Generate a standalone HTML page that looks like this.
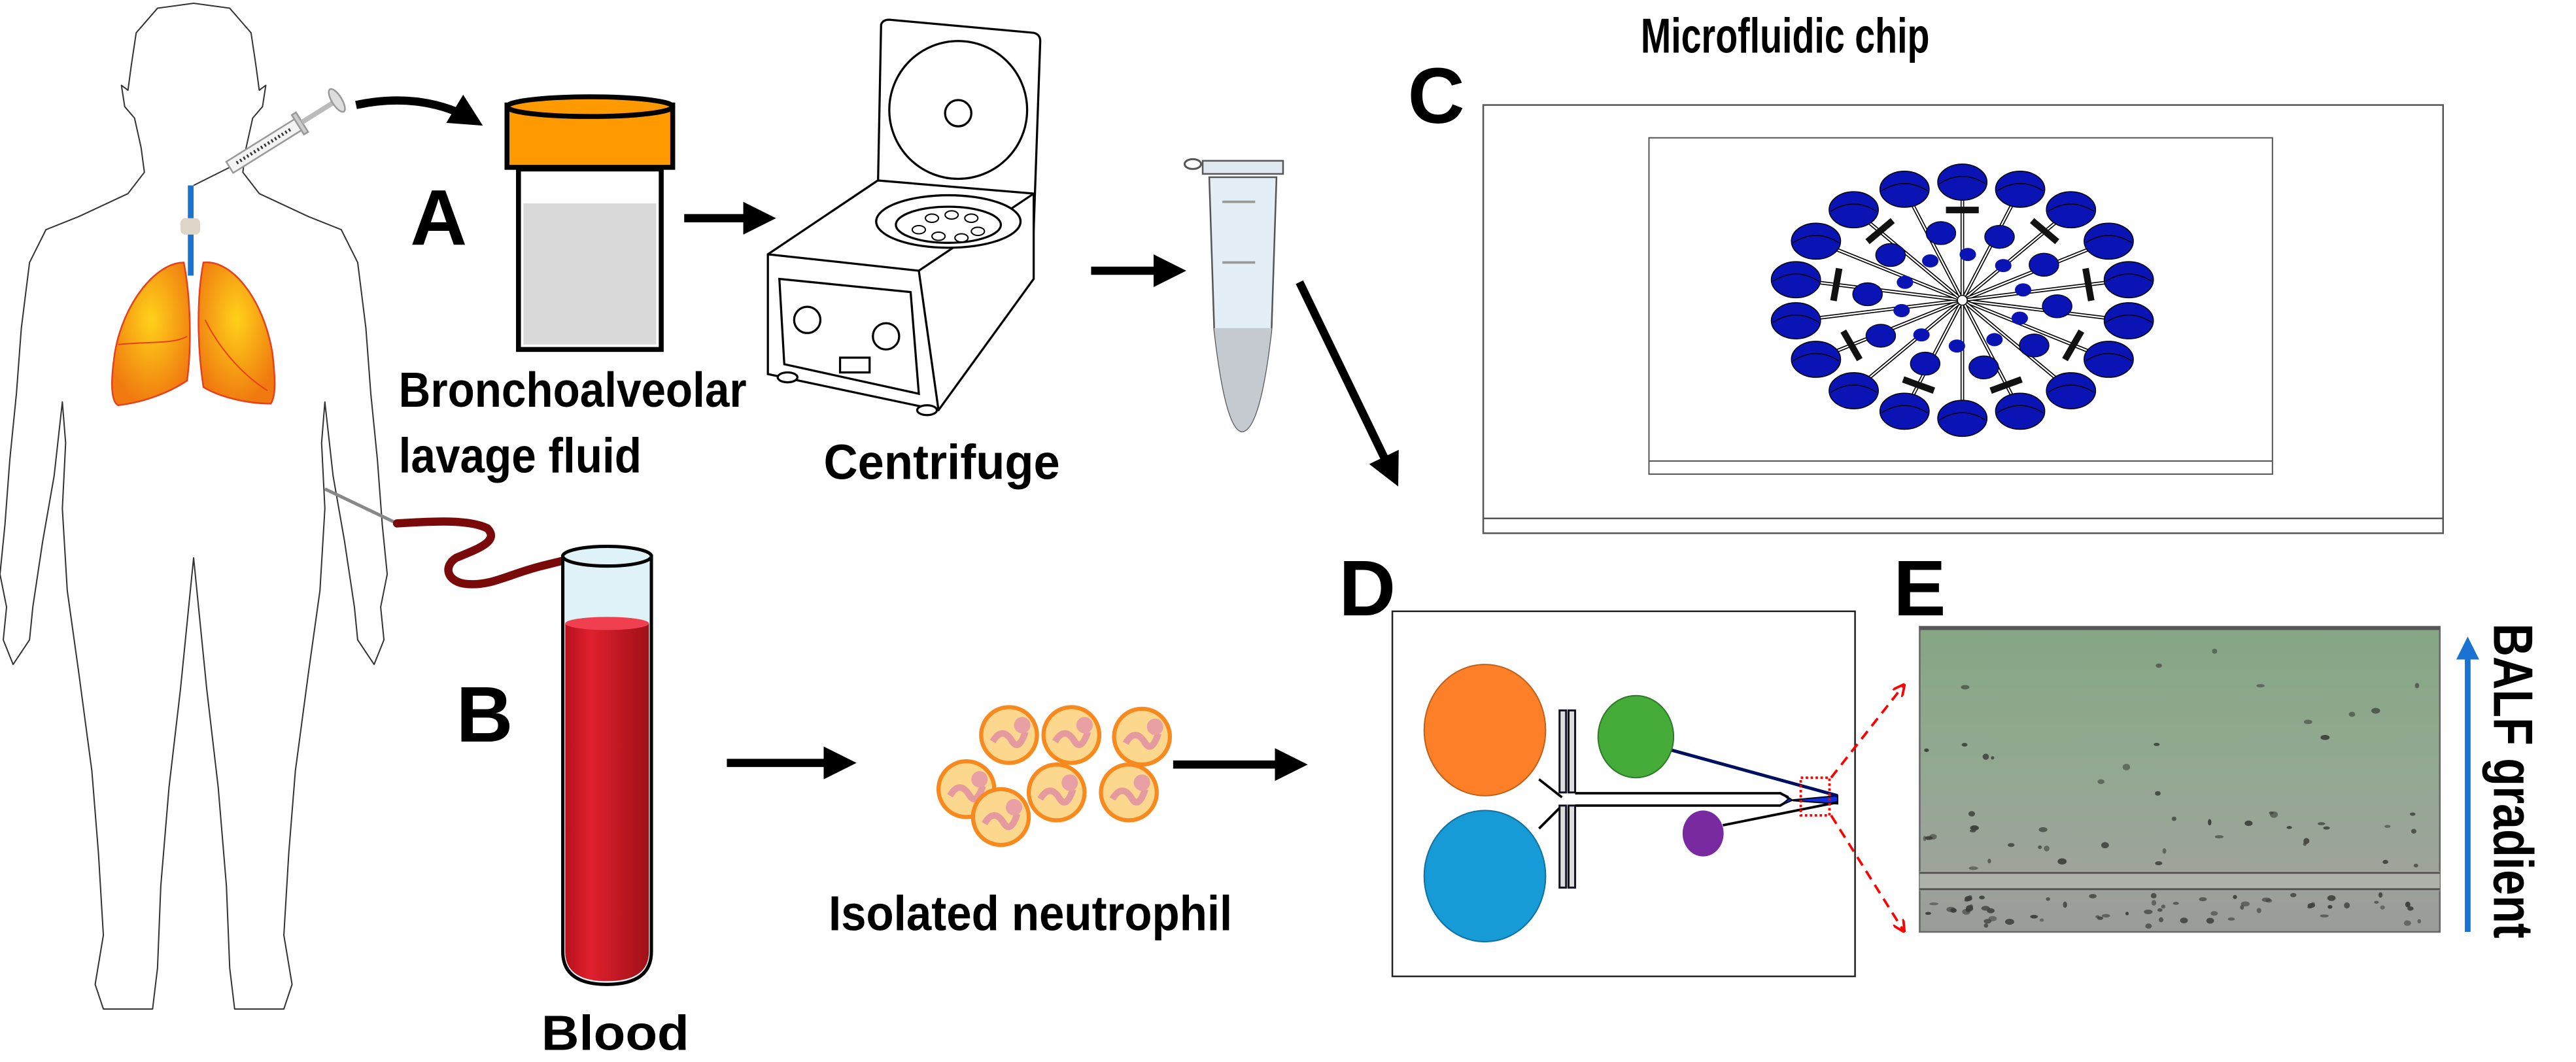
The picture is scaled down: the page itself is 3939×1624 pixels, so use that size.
<!DOCTYPE html>
<html><head><meta charset="utf-8"><style>
html,body{margin:0;padding:0;background:#fff;}
svg{display:block;}
text{font-family:"Liberation Sans",sans-serif;font-weight:bold;fill:#000;}
</style></head><body>
<svg id="s" width="3939" height="1624" viewBox="0 0 1570 647.3" preserveAspectRatio="none" xmlns="http://www.w3.org/2000/svg">
<defs>
<marker id="ah" markerWidth="4" markerHeight="4" refX="3" refY="2" orient="auto" markerUnits="strokeWidth"><path d="M0,0 L4,2 L0,4 z" fill="#000"/></marker>
<marker id="ahr" markerWidth="5" markerHeight="5" refX="4" refY="2.5" orient="auto" markerUnits="strokeWidth"><path d="M0,0 L5,2.5 L0,5" fill="none" stroke="#f00" stroke-width="1"/></marker>
<marker id="ahb" markerWidth="4" markerHeight="4" refX="2" refY="2" orient="auto" markerUnits="strokeWidth"><path d="M0,0 L4,2 L0,4 z" fill="#1a73d0"/></marker>
<radialGradient id="lung" cx="50%" cy="40%" r="60%"><stop offset="0" stop-color="#ffd21a"/><stop offset="1" stop-color="#f07a10"/></radialGradient>
<linearGradient id="blood" x1="0" x2="1"><stop offset="0" stop-color="#b8101c"/><stop offset="0.3" stop-color="#e0202e"/><stop offset="1" stop-color="#a01018"/></linearGradient>
<linearGradient id="img" x1="0" y1="0" x2="0" y2="1"><stop offset="0" stop-color="#86a684"/><stop offset="0.45" stop-color="#92a891"/><stop offset="0.8" stop-color="#9ea39b"/><stop offset="1" stop-color="#9a9c97"/></linearGradient>
</defs>

<path d="M118,2 L140,5 153,20 156,40 158,55 162,52 160,65 154,72 150,90 148,105 158,118 188,132 208,140 218,160 223,200 226,240 230,280 233,320 236,350 232,370 234,390 228,405 218,390 216,370 210,330 203,290 198,245 196,270 198,310 195,360 188,410 180,470 176,520 173,570 178,600 173,615 143,615 140,590 138,540 133,480 126,420 118,340 110,420 103,480 98,540 96,590 93,615 63,615 58,600 63,570 60,520 56,470 48,410 41,360 38,310 40,270 38,245 33,290 26,330 20,370 18,390 8,405 2,390 4,370 0,350 3,320 6,280 10,240 13,200 18,160 28,140 48,132 78,118 88,105 86,90 82,72 76,65 74,52 78,55 80,40 83,20 96,5 Z" fill="#fff" stroke="#333" stroke-width="0.8" stroke-linejoin="round"/>
<path d="M112,160 C95,160 75,185 70,215 C67,235 68,245 72,247 C90,245 105,238 114,232 C117,210 116,180 112,160 Z" fill="url(#lung)" stroke="#e8401a" stroke-width="1"/>
<path d="M124,160 C140,158 160,180 166,215 C168,232 168,242 165,246 C150,246 134,242 124,236 C120,210 120,180 124,160 Z" fill="url(#lung)" stroke="#e8401a" stroke-width="1"/>
<path d="M72,210 C90,208 105,210 114,205 M125,195 C135,215 150,230 163,238" fill="none" stroke="#e8401a" stroke-width="0.8"/>
<rect x="114.5" y="113" width="3.5" height="55" fill="#1a73d0"/>
<rect x="110" y="133" width="12" height="10" rx="3" fill="#e0d6c8"/>
<line x1="118" y1="113" x2="140" y2="102" stroke="#333" stroke-width="0.8"/>
<g transform="translate(140,102) rotate(-32)">
<rect x="0" y="-4" width="50" height="8" fill="#f4f4f4" stroke="#999" stroke-width="1"/>
<line x1="5" y1="0" x2="45" y2="0" stroke="#333" stroke-width="2" stroke-dasharray="1 1.5"/>
<rect x="49" y="-7" width="3" height="14" fill="#ccc" stroke="#999"/>
<line x1="52" y1="0" x2="75" y2="0" stroke="#bbb" stroke-width="3"/>
<ellipse cx="77" cy="0" rx="3" ry="8" fill="#ddd" stroke="#999"/>
</g>
<path d="M217,64 C245,58 270,62 290,74" fill="none" stroke="#000" stroke-width="5" marker-end="url(#ah)"/>
<text x="250" y="149" font-size="48">A</text>
<rect x="316" y="103" width="87" height="110" fill="#fff" stroke="#000" stroke-width="3"/>
<rect x="319" y="124" width="81" height="86" fill="#d9d9d9"/>
<rect x="309" y="64" width="101" height="38" fill="#ff9900" stroke="#000" stroke-width="3"/>
<ellipse cx="359.5" cy="65" rx="50.5" ry="6" fill="#ff9900" stroke="#000" stroke-width="3"/>
<text x="243" y="248" font-size="30" textLength="212" lengthAdjust="spacingAndGlyphs">Bronchoalveolar</text>
<text x="243" y="288" font-size="30" textLength="148" lengthAdjust="spacingAndGlyphs">lavage fluid</text>
<line x1="417" y1="133" x2="468" y2="133" stroke="#000" stroke-width="5" marker-end="url(#ah)"/>
<g fill="#fff" stroke="#000" stroke-width="1.3">
<path d="M535,118 L537,15 Q538,12 542,12 L630,20 Q634,21 634,25 L630,140 Z"/>
<ellipse cx="584" cy="67" rx="42" ry="42"/>
<ellipse cx="584" cy="69" rx="8" ry="8"/>
<path d="M468,155 L535,110 L630,118 L630,170 L572,250 L468,228 Z"/>
<path d="M468,155 L560,165 L630,118 M560,165 L572,250"/>
<ellipse cx="578" cy="135" rx="44" ry="16"/>
<ellipse cx="578" cy="137" rx="32" ry="11"/>
<path d="M475,170 L555,178 L560,240 L478,222 Z"/>
<circle cx="492" cy="195" r="8"/><circle cx="540" cy="205" r="8"/>
<rect x="512" y="218" width="18" height="9"/>
<ellipse cx="480" cy="230" rx="6" ry="3"/><ellipse cx="565" cy="250" rx="6" ry="3"/>
</g>
<g fill="#fff" stroke="#000" stroke-width="0.8">
<ellipse cx="568" cy="133" rx="4" ry="2.5"/><ellipse cx="580" cy="131" rx="4" ry="2.5"/><ellipse cx="592" cy="133" rx="4" ry="2.5"/><ellipse cx="560" cy="140" rx="4" ry="2.5"/><ellipse cx="596" cy="141" rx="4" ry="2.5"/><ellipse cx="572" cy="144" rx="4" ry="2.5"/><ellipse cx="586" cy="145" rx="4" ry="2.5"/>
</g>
<text x="502" y="292" font-size="30" textLength="144" lengthAdjust="spacingAndGlyphs">Centrifuge</text>
<line x1="665" y1="165" x2="718" y2="165" stroke="#000" stroke-width="5" marker-end="url(#ah)"/>
<path d="M737,108 L778,108 L775,200 Q768,262 757,263 Q747,262 740,200 Z" fill="#e3eef6" stroke="#555" stroke-width="1"/>
<path d="M740,200 Q747,262 757,263 Q768,262 775,200 Z" fill="#c5cad0"/>
<rect x="733" y="98" width="49" height="8" fill="#dfe9f0" stroke="#555" stroke-width="1"/>
<ellipse cx="727" cy="100" rx="5" ry="3" fill="none" stroke="#555" stroke-width="1.2"/>
<line x1="745" y1="123" x2="765" y2="123" stroke="#999" stroke-width="1.5"/>
<line x1="745" y1="160" x2="765" y2="160" stroke="#999" stroke-width="1.5"/>
<line x1="792" y1="172" x2="850" y2="292" stroke="#000" stroke-width="5" marker-end="url(#ah)"/>
<text x="1000" y="32" font-size="30" textLength="176" lengthAdjust="spacingAndGlyphs">Microfluidic chip</text>
<text x="858" y="75" font-size="48">C</text>
<rect x="904" y="64" width="585" height="261" fill="#fff" stroke="#555" stroke-width="1"/>
<line x1="904" y1="316" x2="1489" y2="316" stroke="#555" stroke-width="1"/>
<rect x="1005" y="84" width="380" height="205" fill="#fff" stroke="#555" stroke-width="0.8"/>
<line x1="1005" y1="281" x2="1385" y2="281" stroke="#555" stroke-width="0.8"/>
<g id="radial"></g>
<text x="816" y="375" font-size="48">D</text>
<rect x="848.6" y="372.6" width="282" height="222.5" fill="#fff" stroke="#222" stroke-width="1"/>
<line x1="938" y1="475" x2="952" y2="486" stroke="#000" stroke-width="1.5"/>
<line x1="938" y1="505" x2="952" y2="491" stroke="#000" stroke-width="1.5"/>
<ellipse cx="905" cy="445" rx="37" ry="40" fill="#fd7f27" stroke="#c0601a" stroke-width="0.8"/>
<ellipse cx="905" cy="534" rx="37" ry="40" fill="#169bd7" stroke="#1070a0" stroke-width="0.8"/>
<rect x="950.5" y="433" width="4" height="50" fill="#ddd" stroke="#112" stroke-width="1.2"/>
<rect x="956" y="433" width="4" height="50" fill="#ddd" stroke="#112" stroke-width="1.2"/>
<rect x="950.5" y="491" width="4" height="50" fill="#ddd" stroke="#112" stroke-width="1.2"/>
<rect x="956" y="491" width="4" height="50" fill="#ddd" stroke="#112" stroke-width="1.2"/>
<path d="M960,483.5 L1085,483.5 L1090,486 M960,491 L1085,491 L1090,488" fill="none" stroke="#000" stroke-width="1.5"/>
<path d="M1085,483 L1090,487 L1085,491 L1093,487.5 L1120,485 L1120,490 L1093,488 Z" fill="#1030e0" stroke="#001" stroke-width="0.8"/>
<line x1="1018" y1="457" x2="1120" y2="485" stroke="#001060" stroke-width="2"/>
<line x1="1050" y1="503" x2="1120" y2="489" stroke="#000" stroke-width="1.5"/>
<ellipse cx="997" cy="449" rx="23" ry="25" fill="#45ac3a" stroke="#2e7a28" stroke-width="0.8"/>
<ellipse cx="1038" cy="508" rx="12.5" ry="14" fill="#7a2aa0"/>
<rect x="1097.5" y="474" width="17.5" height="23" fill="none" stroke="#f00" stroke-width="1.5" stroke-dasharray="1.5 1.5"/>
<line x1="1116" y1="474" x2="1160" y2="418" stroke="#f00" stroke-width="1.5" stroke-dasharray="6 4" marker-end="url(#ahr)"/>
<line x1="1116" y1="497" x2="1160" y2="567" stroke="#f00" stroke-width="1.5" stroke-dasharray="6 4" marker-end="url(#ahr)"/>
<text x="1154" y="375" font-size="48">E</text>
<rect x="1170" y="382" width="317" height="186" fill="url(#img)" stroke="#666" stroke-width="1"/>
<rect x="1170" y="382" width="317" height="2" fill="#555"/>
<rect x="1170" y="531" width="317" height="12" fill="#aeb0aa"/>
<line x1="1170" y1="532" x2="1487" y2="532" stroke="#555" stroke-width="1.2"/>
<line x1="1170" y1="542" x2="1487" y2="542" stroke="#555" stroke-width="1.2"/>
<g id="cells" fill="#3a3d38"></g>
<line x1="1504" y1="568" x2="1504" y2="395" stroke="#1a73d0" stroke-width="3.5" marker-end="url(#ahb)"/>
<text transform="translate(1520,380) rotate(90)" x="0" y="0" font-size="34" textLength="192" lengthAdjust="spacingAndGlyphs">BALF gradient</text>
<line x1="198" y1="298" x2="242" y2="319" stroke="#888" stroke-width="2"/>
<path d="M242,319 C260,318 285,316 297,322 C305,330 290,335 278,340 C270,345 272,355 285,356 C300,357 310,350 330,345 C350,340 362,336 372,345 C380,355 382,360 383,372" fill="none" stroke="#7a0a0a" stroke-width="5" stroke-linecap="round"/>
<text x="278" y="452" font-size="48">B</text>
<path d="M343,339 L343,580 Q343,600 370,600 Q397,600 397,580 L397,339 Z" fill="#dff2f7" stroke="#000" stroke-width="2"/>
<path d="M344.5,380 L344.5,580 Q344.5,598 370,598 Q395.5,598 395.5,580 L395.5,380 Z" fill="url(#blood)"/>
<ellipse cx="370" cy="380" rx="25.5" ry="4" fill="#f04050"/>
<ellipse cx="370" cy="339" rx="27" ry="6" fill="#dff2f7" stroke="#000" stroke-width="2"/>
<text x="330" y="640" font-size="30" textLength="90" lengthAdjust="spacingAndGlyphs">Blood</text>
<line x1="443" y1="465" x2="517" y2="465" stroke="#000" stroke-width="5" marker-end="url(#ah)"/>
<g id="neut"></g>
<text x="505" y="567" font-size="30" textLength="246" lengthAdjust="spacingAndGlyphs">Isolated neutrophil</text>
<line x1="715" y1="466" x2="792" y2="466" stroke="#000" stroke-width="5" marker-end="url(#ah)"/>
</svg>
<script>
var NS="http://www.w3.org/2000/svg";
function el(p,n,a){var e=document.createElementNS(NS,n);for(var k in a)e.setAttribute(k,a[k]);p.appendChild(e);return e;}
var r=document.getElementById("radial"),cx=1196,cy=183;
for(var i=0;i<18;i++){var t=(i*20+10)*Math.PI/180,x=cx+103*Math.cos(t),y=cy+72*Math.sin(t);
el(r,"line",{x1:cx,y1:cy,x2:x,y2:y,stroke:"#000","stroke-width":2.2});
el(r,"line",{x1:cx,y1:cy,x2:x,y2:y,stroke:"#fff","stroke-width":0.9});}
for(var i=0;i<18;i++){var t=(i*20+10)*Math.PI/180,x=cx+103*Math.cos(t),y=cy+72*Math.sin(t);
el(r,"ellipse",{cx:x,cy:y,rx:15,ry:11,fill:"#0a14b4",stroke:"#000","stroke-width":0.6});
el(r,"path",{d:"M"+(x-14)+","+(y+1)+" Q"+x+","+(y-8)+" "+(x+14)+","+(y+1),fill:"none",stroke:"#000","stroke-width":0.6});}
for(var i=0;i<9;i++){var t=(i*40+30)*Math.PI/180,x=cx+78*Math.cos(t),y=cy+55*Math.sin(t),d=(i*40+30)+90;
el(r,"rect",{x:x-10,y:y-2,width:20,height:4,fill:"#111",transform:"rotate("+d+" "+x+" "+y+")"});}
for(var i=0;i<10;i++){var t=(i*36+5)*Math.PI/180,x=cx+58*Math.cos(t),y=cy+42*Math.sin(t);
el(r,"ellipse",{cx:x,cy:y,rx:9,ry:7,fill:"#0a14b4",stroke:"#000","stroke-width":0.5});}
for(var i=0;i<10;i++){var t=(i*36+23)*Math.PI/180,x=cx+38*Math.cos(t),y=cy+28*Math.sin(t);
el(r,"ellipse",{cx:x,cy:y,rx:5,ry:4,fill:"#0a14b4"});}
el(r,"circle",{cx:cx,cy:cy,r:3,fill:"#fff",stroke:"#000","stroke-width":0.6});
var n=document.getElementById("neut");
[[615,448],[653,448],[696,449],[589,481],[644,483],[688,483],[610,498]].forEach(function(p){
el(n,"circle",{cx:p[0],cy:p[1],r:17,fill:"#fbd88e",stroke:"#f7891e","stroke-width":2.5});
el(n,"path",{d:"M"+(p[0]-10)+","+(p[1]+4)+" q6,-10 12,0 q4,6 8,-6",fill:"none",stroke:"#e59aa0","stroke-width":4});
el(n,"circle",{cx:p[0]+8,cy:p[1]-6,r:5,fill:"#e8a0a4"});});
var c=document.getElementById("cells"),seed=7;function rnd(){seed=(seed*9301+49297)%233280;return seed/233280;}
for(var i=0;i<110;i++){var x=1173+rnd()*310,y;var q=rnd();y=q<0.45?545+rnd()*20:(q<0.8?495+rnd()*35:395+rnd()*100);
el(c,"ellipse",{cx:x,cy:y,rx:1+rnd()*1.8,ry:0.8+rnd()*1.2,opacity:0.55+rnd()*0.4});}
</script>
</body></html>
